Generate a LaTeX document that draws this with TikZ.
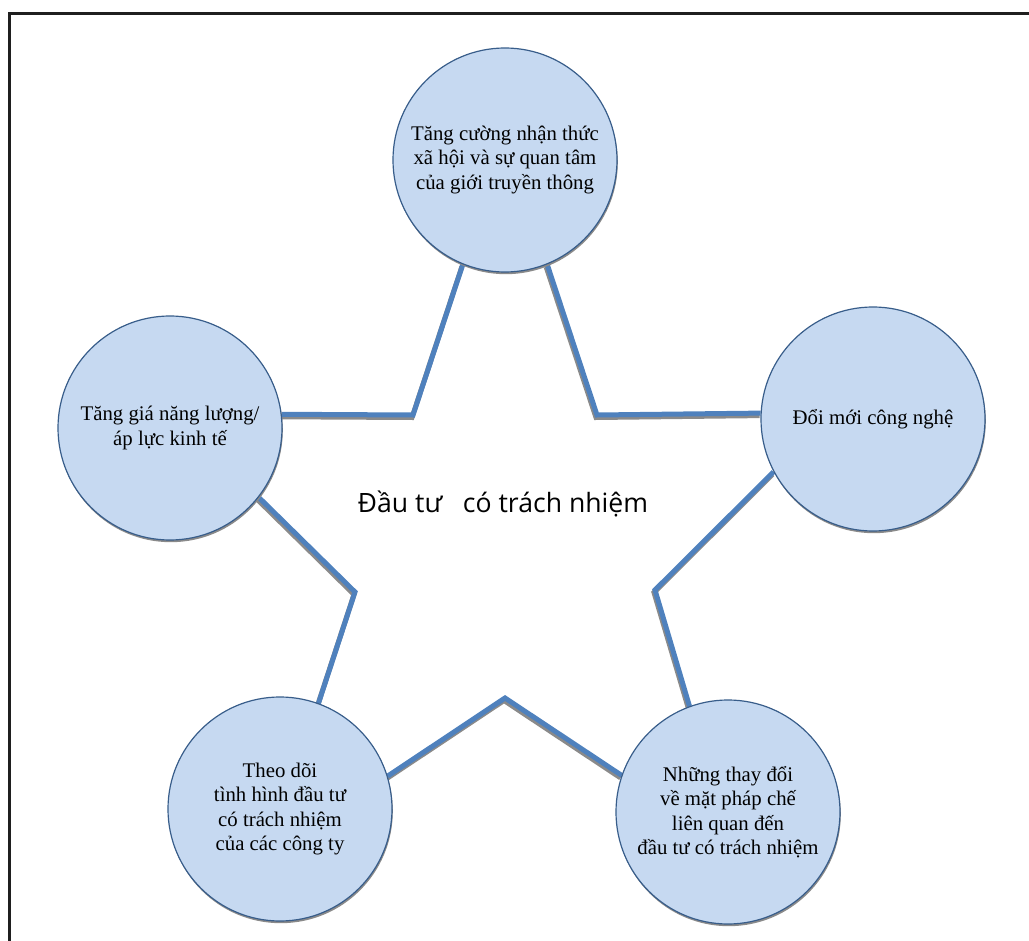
\documentclass[tikz,border=0pt]{standalone}
\usepackage{fontspec}
\setmainfont{Liberation Serif}
\newfontfamily\centerfont{Open Sans}
\usetikzlibrary{shadows,backgrounds}
\definecolor{circfill}{HTML}{C6D9F1}
\definecolor{circedge}{HTML}{385D8A}
\definecolor{linkblue}{HTML}{4F81BD}
\definecolor{shadowgray}{HTML}{8A8A8A}
\begin{document}
\begin{tikzpicture}[x=1pt,y=-1pt,
  topic/.style={circle, minimum size=224pt, inner sep=0pt, fill=circfill, draw=circedge,
    line width=1.2pt, align=center, font=\fontsize{20.8}{24.5}\selectfont,
    drop shadow={shadow xshift=0.8pt, shadow yshift=-2.2pt, fill=shadowgray, opacity=1}},
  link/.style={draw=linkblue, line width=5pt, line join=miter,
    preaction={draw=shadowgray, line width=5pt, transform canvas={xshift=-1pt, yshift=-2.5pt}}},
  frame/.style={draw=black!88, line width=3pt}]
\useasboundingbox (0,0) rectangle (1029,941);
\draw[frame] (9.5,941) -- (9.5,14) -- (1029,14);

\node[topic] (top) at (505,160) {Tăng cường nhận thức\\xã hội và sự quan tâm\\của giới truyền thông};
\node[topic] (left) at (170,428) {Tăng giá năng lượng/\\áp lực kinh tế};
\node[topic] (right) at (873,419) {Đổi mới công nghệ};
\node[topic] (bl) at (280,809) {Theo dõi\\tình hình đầu tư\\có trách nhiệm\\ của các công ty};
\node[topic] (br) at (728,812) {Những thay đổi\\về mặt pháp chế\\liên quan đến\\đầu tư có trách nhiệm};

\coordinate (v1) at (413,415);
\coordinate (v2) at (597,415);
\coordinate (v3) at (655,590);
\coordinate (v4) at (505,698);
\coordinate (v5) at (355,592);

\begin{scope}[on background layer]
\draw[link] (top.248) -- (v1) -- (left.7);
\draw[link] (top.292) -- (v2) -- (right.177);
\draw[link] (right.208) -- (v3) -- (br.110);
\draw[link] (br.161) -- (v4) -- (bl.17);
\draw[link] (bl.70) -- (v5) -- (left.322);
\end{scope}

\node[font=\centerfont\fontsize{26.6}{32}\selectfont, anchor=base] (title) at (503,512) {Đầu tư\ \ \ có trách nhiệm};
\end{tikzpicture}
\end{document}
